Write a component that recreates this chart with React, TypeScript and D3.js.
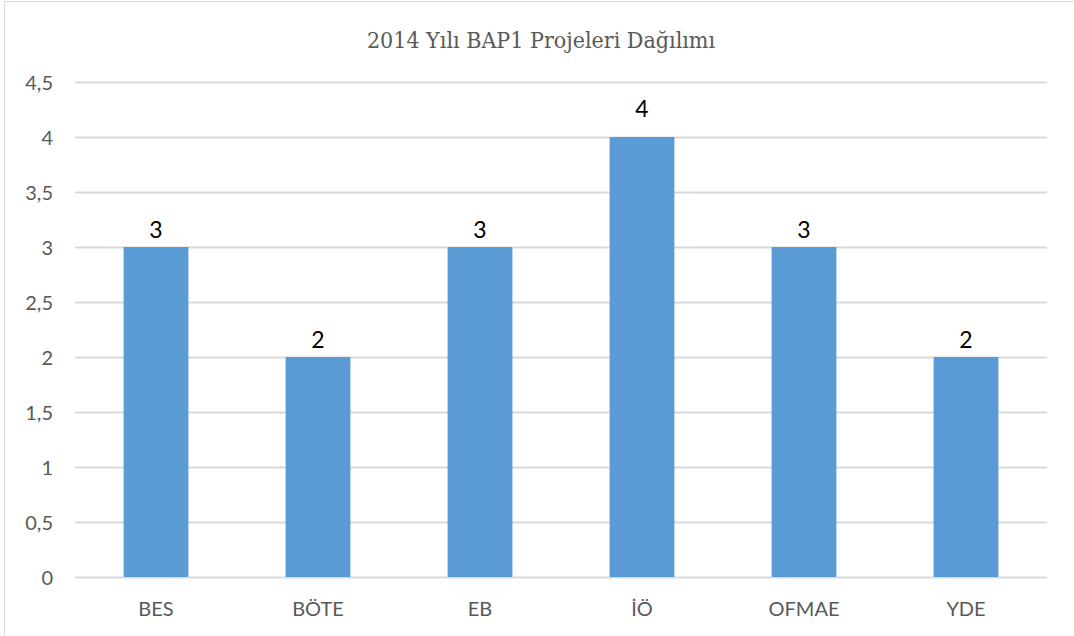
import { useEffect, useRef } from 'react';
import * as d3 from 'd3';

const categories = ['BES', 'BÖTE', 'EB', 'İÖ', 'OFMAE', 'YDE'];
const values = [3, 2, 3, 4, 3, 2];
const yTicks = [0, 0.5, 1, 1.5, 2, 2.5, 3, 3.5, 4, 4.5];
const title = '2014 Yılı BAP1 Projeleri Dağılımı';

const sans = 'Lato, "Open Sans", "Noto Sans", sans-serif';

export default function App() {
  const svgRef = useRef<SVGSVGElement | null>(null);
  const width = 1074;
  const height = 636;

  useEffect(() => {
    const svg = d3.select(svgRef.current);
    svg.selectAll('*').remove();

    const left = 75;
    const right = 1047;
    const top = 82;
    const bottom = 577;

    // chart frame
    svg.append('rect')
      .attr('x', 4.5)
      .attr('y', 1.5)
      .attr('width', 1080)
      .attr('height', 700)
      .attr('fill', '#fff')
      .attr('stroke', '#d9d9d9')
      .attr('stroke-width', 1);

    const x = d3.scaleBand<string>()
      .domain(categories)
      .range([left, right])
      .paddingInner(0.6)
      .paddingOuter(0.3);

    const y = d3.scaleLinear()
      .domain([0, 4.5])
      .range([bottom, top]);

    const fmt = (v: number) => String(v).replace('.', ',');
    const maxV = d3.max(values)!;

    svg.append('g')
      .selectAll('line')
      .data(yTicks)
      .join('line')
      .attr('x1', left)
      .attr('x2', right)
      .attr('y1', d => Math.round(y(d)) + 0.5)
      .attr('y2', d => Math.round(y(d)) + 0.5)
      .attr('stroke', '#d9d9d9')
      .attr('stroke-width', 2);

    svg.append('g')
      .selectAll('text')
      .data(yTicks)
      .join('text')
      .attr('x', 53)
      .attr('y', d => y(d))
      .attr('text-anchor', 'end')
      .attr('dominant-baseline', 'central')
      .attr('fill', '#595959')
      .style('font-family', sans)
      .style('font-size', '20px')
      .text(d => fmt(d));

    const data = categories.map((c, i) => ({ c, v: values[i] }));

    svg.append('g')
      .selectAll('rect')
      .data(data)
      .join('rect')
      .attr('x', d => x(d.c)!)
      .attr('y', d => y(d.v))
      .attr('width', x.bandwidth())
      .attr('height', d => y(0) - y(d.v))
      .attr('fill', '#5b9bd5');

    // the top label sits a bit higher, as in the original
    svg.append('g')
      .selectAll('text')
      .data(data)
      .join('text')
      .attr('x', d => x(d.c)! + x.bandwidth() / 2)
      .attr('y', d => y(d.v) - (d.v === maxV ? 29 : 18))
      .attr('text-anchor', 'middle')
      .attr('dominant-baseline', 'central')
      .attr('fill', '#000')
      .style('font-family', sans)
      .style('font-size', '23px')
      .text(d => fmt(d.v));

    svg.append('g')
      .selectAll('text')
      .data(categories)
      .join('text')
      .attr('x', d => x(d)! + x.bandwidth() / 2)
      .attr('y', 608)
      .attr('text-anchor', 'middle')
      .attr('dominant-baseline', 'central')
      .attr('fill', '#595959')
      .style('font-family', sans)
      .style('font-size', '20px')
      .text(d => d);

    svg.append('text')
      .attr('x', 541)
      .attr('y', 40)
      .attr('text-anchor', 'middle')
      .attr('dominant-baseline', 'central')
      .attr('fill', '#595959')
      .style('font-family', '"DejaVu Serif", serif')
      .style('font-size', '23px')
      .style('font-stretch', 'condensed')
      .text(title);
  }, []);

  return (
    <svg
      ref={svgRef}
      width={width}
      height={height}
      style={{ position: 'absolute', left: 0, top: 0, background: '#fff' }}
    />
  );
}
